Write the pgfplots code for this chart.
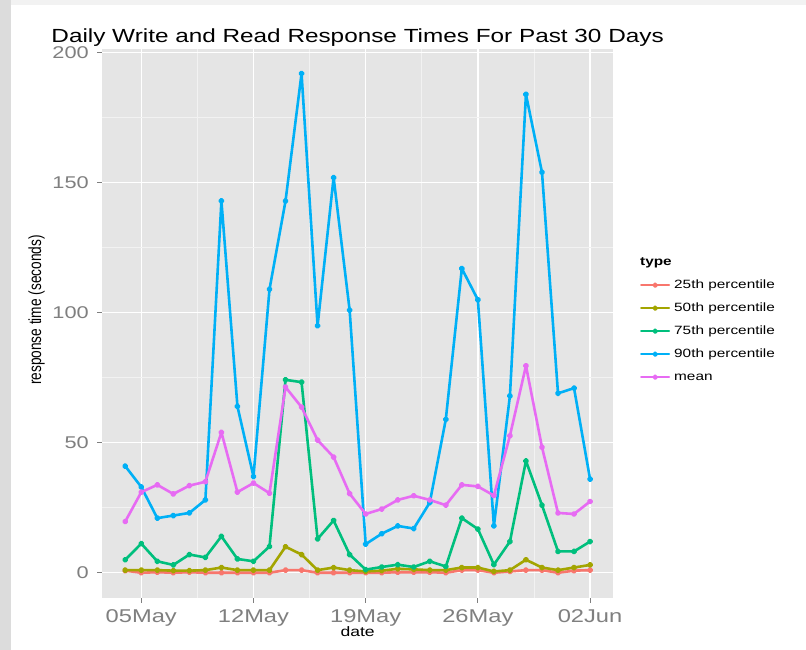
\documentclass[border=0pt]{standalone}
\usepackage{pgfplots}
\usepackage{pgfplotstable}
\pgfplotsset{compat=1.18}
\usepackage{fontspec}
\setmainfont{Liberation Sans}
\definecolor{c25}{HTML}{F8766D}
\definecolor{c50}{HTML}{A3A500}
\definecolor{c75}{HTML}{00BF7D}
\definecolor{c90}{HTML}{00B0F6}
\definecolor{cmean}{HTML}{E76BF3}
\definecolor{panel}{HTML}{E5E5E5}
\definecolor{minorgrid}{HTML}{F2F2F2}
\definecolor{tickgray}{HTML}{7F7F7F}
\definecolor{framegray}{HTML}{DCDCDC}
\definecolor{topgray}{HTML}{F2F2F2}
\newcommand\hs[1]{\scalebox{1.28}[1]{#1}}
\newcommand\titlefont{\fontsize{19bp}{23bp}\selectfont}
\newcommand\xtfont{\fontsize{18.5bp}{22bp}\selectfont}
\newcommand\ytfont{\fontsize{17bp}{20bp}\selectfont}
\newcommand\labfont{\fontsize{13.7bp}{16bp}\selectfont}
\newcommand\legfont{\fontsize{12bp}{14bp}\selectfont}

\pgfplotstableread{
d  p25  p50  p75  p90  mean
0  0.8  1.0  5.0  41   19.7
1  0.0  1.0  11.2 33   31.0
2  0.2  1.0  4.4  21   33.8
3  0.0  0.8  3.0  22   30.3
4  0.2  0.8  7.0  23   33.5
5  0.0  1.0  5.9  28   35.0
6  0.0  2.0  14.0 143  54.0
7  0.0  1.0  5.3  64   31.0
8  0.0  1.0  4.4  37   34.5
9  0.0  1.0  10.1 109  30.6
10 1.0  10.0 74.2 143  71.4
11 1.0  7.0  73.3 192  63.7
12 0.0  1.0  13.0 95   51.0
13 0.0  2.0  20.1 152  44.5
14 0.0  1.0  7.0  101  30.4
15 0.0  0.5  1.2  11   22.6
16 0.0  0.8  2.2  15   24.5
17 0.2  1.5  3.1  18   28.0
18 0.2  1.3  2.2  17   29.6
19 0.2  1.0  4.4  27   28.0
20 0.0  1.0  2.4  59   26.0
21 1.0  2.0  21.0 117  33.8
22 1.0  2.0  16.8 105  33.2
23 0.0  0.5  3.1  18   29.7
24 0.5  1.0  12.0 68   52.7
25 1.0  5.0  43.0 184  79.6
26 1.0  2.0  26.0 154  48.3
27 0.0  1.0  8.2  69   23.0
28 0.8  2.0  8.2  71   22.6
29 1.0  3.0  12.0 36   27.4
}\datatable

\begin{document}
\begin{tikzpicture}[x=1bp,y=1bp]
\useasboundingbox (0,0) rectangle (806,650);
\fill[white] (0,0) rectangle (806,650);
\fill[framegray] (0,0) rectangle (11,650);
\fill[topgray] (11,645) rectangle (806,650);
\begin{axis}[
  at={(102bp,52.3bp)}, anchor=south west,
  scale only axis, width=511.3bp, height=549.1bp,
  xmin=-1.45, xmax=30.45, ymin=-9.6, ymax=201.6,
  axis background/.style={fill=panel},
  axis line style={draw=none},
  tick pos=left, tick align=outside,
  major tick length=5bp, minor tick length=0pt,
  tick style={draw=tickgray, line width=1bp},
  xtick={1,8,15,22,29},
  xticklabels={\hs{05May},\hs{12May},\hs{19May},\hs{26May},\hs{02Jun}},
  ytick={0,50,100,150,200},
  yticklabels={\hs{0},\hs{50},\hs{100},\hs{150},\hs{200}},
  minor xtick={4.5,11.5,18.5,25.5},
  minor ytick={25,75,125,175},
  grid=both,
  major grid style={draw=white, line width=1.3bp},
  minor grid style={draw=minorgrid, line width=0.7bp},
  xticklabel style={font=\xtfont, text=tickgray, inner sep=0pt, yshift=-7bp},
  yticklabel style={font=\ytfont, text=tickgray, inner sep=0pt, xshift=-8bp},
  legend style={at={(1.0522,0.5804)}, anchor=north west, draw=none, fill=none,
    inner sep=0pt, row sep=11bp, column sep=4bp, font=\legfont,
    nodes={inner sep=0pt, text height=9bp, text depth=3bp}},
  legend cell align=left,
  legend image code/.code={\draw[mark repeat=2,mark phase=2,#1,line width=2bp] plot coordinates {(0bp,0bp) (14bp,0bp) (28bp,0bp)};},
  every axis plot/.append style={line width=2.6bp, line join=round, line cap=round, mark=*, mark size=1.8bp},
]
\addplot[color=c25, mark options={fill=c25}] table[x=d, y=p25] {\datatable};
\addlegendentry{\hs{25th percentile}}
\addplot[color=c50, mark options={fill=c50}] table[x=d, y=p50] {\datatable};
\addlegendentry{\hs{50th percentile}}
\addplot[color=c75, mark options={fill=c75}] table[x=d, y=p75] {\datatable};
\addlegendentry{\hs{75th percentile}}
\addplot[color=c90, mark options={fill=c90}] table[x=d, y=p90] {\datatable};
\addlegendentry{\hs{90th percentile}}
\addplot[color=cmean, mark options={fill=cmean}] table[x=d, y=mean] {\datatable};
\addlegendentry{\hs{mean}}
\end{axis}
\node[anchor=base] at (357.6,607.8) {\titlefont\hs{Daily Write and Read Response Times For Past 30 Days}};
\node[anchor=base] at (357.6,13) {\labfont\hs{date}};
\node[rotate=90, anchor=center] at (36.7,340) {\labfont\scalebox{1}[1.28]{response time (seconds)}};
\node[anchor=west, inner sep=0pt] at (640,387) {\legfont\bfseries\hs{type}};
\end{tikzpicture}
\end{document}
